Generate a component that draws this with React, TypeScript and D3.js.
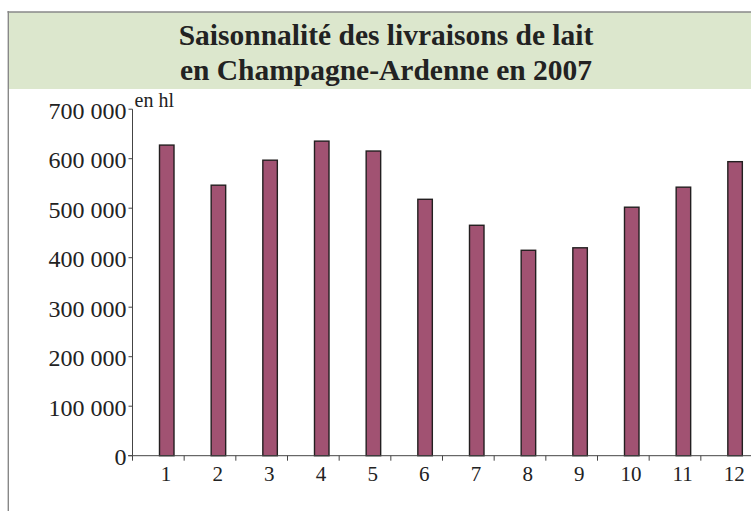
import React from 'react';
import * as d3 from 'd3';

// monthly milk deliveries, hl
const months = ['1', '2', '3', '4', '5', '6', '7', '8', '9', '10', '11', '12'];
const deliveries = [627500, 546500, 597000, 635500, 615500, 518000, 465500, 415000, 420000, 502000, 542500, 594000];
const yTicks = [0, 100000, 200000, 300000, 400000, 500000, 600000, 700000];
const titleLines = ['Saisonnalité des livraisons de lait', 'en Champagne-Ardenne en 2007'];

const width = 751;
const height = 511;
const font = 'Liberation Serif';
const ink = '#222';
const axisColor = '#444';

const x = d3.scaleBand().domain(months).range([132, 752]);
const y = d3.scaleLinear().domain([0, 700000]).range([455.7, 109.2]);
const fmt = (v: number) => d3.format(',')(v).replace(/,/g, '\u00a0');

const App = () => {
  const y0 = y(0);
  return (
    <svg width={width} height={height} style={{ position: 'absolute', left: 0, top: 0 }}>
      {/* title box */}
      <rect x={8} y={12} width={width} height={77} fill="#dce7cd" />
      <line x1={7.5} x2={width} y1={12} y2={12} stroke="#888" strokeWidth={1.6} />
      <line x1={8.3} x2={8.3} y1={11} y2={height} stroke="#888" strokeWidth={1.4} />
      {titleLines.map((t, i) => (
        <text key={t} x={386} y={45 + i * 35} textAnchor="middle" fill={ink}
          style={{ fontFamily: font, fontWeight: 'bold', fontSize: 29.5 }}>
          {t}
        </text>
      ))}

      {/* bars */}
      {deliveries.map((v, i) => (
        <rect key={i} x={(x(months[i]) as number) + 27.5} width={14.5} y={y(v)} height={y0 - y(v)}
          fill="#a15272" stroke="#231f20" strokeWidth={1.4} />
      ))}

      {/* y axis */}
      <line x1={132.5} x2={132.5} y1={y0} y2={y(700000)} stroke={axisColor} />
      {yTicks.map((t) => (
        <g key={t} transform={`translate(132.5,${y(t)})`}>
          <line x1={0} x2={-4} stroke={axisColor} />
          <text x={-6} dy="0.4em" textAnchor="end" fill={ink} style={{ fontFamily: font, fontSize: 24 }}>
            {fmt(t)}
          </text>
        </g>
      ))}

      {/* x axis: ticks at band boundaries, labels offset like the bars */}
      <g transform={`translate(0,${y0})`}>
        <line x1={128} x2={width} stroke={axisColor} />
        {months.map((m) => (
          <g key={m}>
            <line x1={(x(m) as number) + 0.5} x2={(x(m) as number) + 0.5} y1={0} y2={5} stroke={axisColor} />
            <text x={(x(m) as number) + 34} y={25} textAnchor="middle" fill={ink}
              style={{ fontFamily: font, fontSize: 21 }}>
              {m}
            </text>
          </g>
        ))}
      </g>

      {/* unit */}
      <text x={134.5} y={107} fill={ink} style={{ fontFamily: font, fontSize: 20 }}>en hl</text>
    </svg>
  );
};

export default App;
